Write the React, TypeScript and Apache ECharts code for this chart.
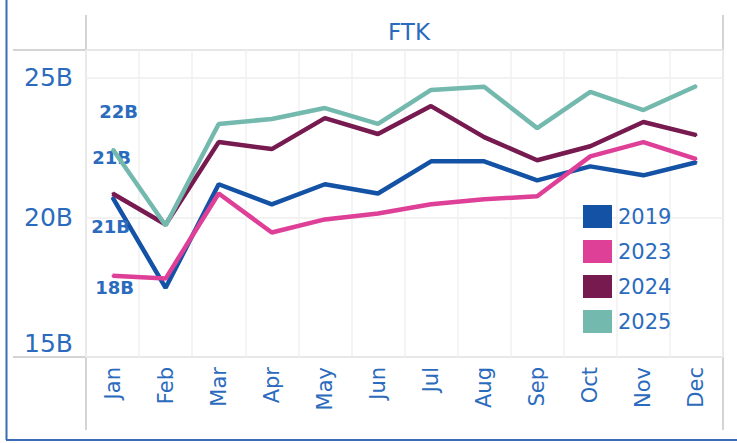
import React, { useEffect, useRef } from "react";
import * as echarts from "echarts";

const months = ["Jan", "Feb", "Mar", "Apr", "May", "Jun", "Jul", "Aug", "Sep", "Oct", "Nov", "Dec"];
const y2019 = [20.72, 17.48, 21.19, 20.47, 21.19, 20.86, 22.01, 22.01, 21.33, 21.83, 21.51, 21.98];
const y2023 = [17.91, 17.81, 20.86, 19.46, 19.93, 20.14, 20.47, 20.65, 20.76, 22.19, 22.7, 22.09];
const y2024 = [20.86, 19.75, 22.7, 22.45, 23.56, 22.99, 23.99, 22.88, 22.05, 22.55, 23.42, 22.95];
const y2025 = [22.45, 19.71, 23.35, 23.53, 23.92, 23.35, 24.57, 24.68, 23.2, 24.5, 23.85, 24.71];
const seriesNames = ["2019", "2023", "2024", "2025"];
const seriesColors = ["#1352a5", "#de3f97", "#761a4f", "#74b9ae"];
const firstLabelOffsets: [number, number][] = [[-2, 29], [2, 12], [-1, -36], [6, -38]];

const TEXT = "#2b6bbd";
const FONT = "DejaVu Sans";
const GRAY = "#d4d4d4";

export default function App() {
  const ref = useRef<HTMLDivElement>(null);
  useEffect(() => {
    if (!ref.current) return;
    const chart = echarts.init(ref.current, undefined, { renderer: "svg" });
    const all = [y2019, y2023, y2024, y2025];
    const series = all.map((vals, i) => ({
      name: seriesNames[i],
      type: "line",
      data: vals.map((v, j) =>
        j === 0
          ? {
              value: v,
              label: {
                show: true,
                position: "inside",
                offset: firstLabelOffsets[i],
                formatter: (p: any) => Math.round(p.value) + "B",
                color: TEXT,
                fontFamily: FONT,
                fontSize: 18,
                fontWeight: "bold",
              },
            }
          : v
      ),
      symbol: "circle",
      symbolSize: 2,
      showSymbol: true,
      lineStyle: { width: 4.5, color: seriesColors[i] },
      itemStyle: { color: seriesColors[i] },
      emphasis: { disabled: true },
      z: 2 + i,
    }));
    const line = (x1: number, y1: number, x2: number, y2: number, color: string, w: number) => ({
      type: "line",
      shape: { x1, y1, x2, y2 },
      style: { stroke: color, lineWidth: w },
      silent: true,
    });
    chart.setOption({
      animation: false,
      backgroundColor: "#ffffff",
      textStyle: { fontFamily: FONT },
      title: {
        text: "FTK",
        left: 404,
        textAlign: "center",
        top: 15,
        textStyle: { color: TEXT, fontFamily: FONT, fontSize: 23, fontWeight: "normal" },
      },
      grid: { left: 86, right: 14, top: 50, bottom: 86 },
      legend: {
        orient: "vertical",
        left: 578,
        top: 200,
        itemWidth: 29,
        itemHeight: 23,
        itemGap: 12,
        icon: "rect",
        data: seriesNames,
        textStyle: { color: TEXT, fontFamily: FONT, fontSize: 21, padding: [0, 0, 0, 1] },
      },
      xAxis: {
        type: "category",
        data: months,
        boundaryGap: true,
        axisLine: { show: false },
        axisTick: { show: false },
        splitLine: { show: true, lineStyle: { color: "#f1f1f1", width: 1.5 } },
        axisLabel: { rotate: 90, margin: 10, color: TEXT, fontFamily: FONT, fontSize: 21 },
      },
      yAxis: {
        type: "value",
        min: 15,
        max: 26,
        interval: 5,
        axisLine: { show: false },
        axisTick: { show: false },
        splitLine: { show: true, lineStyle: { color: "#eeeeee", width: 1.5 } },
        axisLabel: {
          margin: 13,
          showMaxLabel: false,
          color: TEXT,
          fontFamily: FONT,
          fontSize: 25,
          formatter: (v: number) => (v === 15 ? "{low|" + v + "B}" : v % 5 === 0 ? v + "B" : ""),
          rich: {
            low: { color: TEXT, fontFamily: FONT, fontSize: 25, padding: [0, 0, 28, 0] },
          },
        },
      },
      graphic: [
        line(13, 50, 723, 50, GRAY, 2),
        line(13, 357, 723, 357, GRAY, 2),
        line(86, 15, 86, 430, GRAY, 2),
        line(723, 15, 723, 430, GRAY, 2),
        line(6.5, 0, 6.5, 440, "#3a6bb5", 2),
        line(6, 440, 737, 440, "#3a6bb5", 2),
      ],
      series,
    });
    return () => chart.dispose();
  }, []);
  return (
    <div
      ref={ref}
      style={{ position: "fixed", left: 0, top: 0, width: 737, height: 443, background: "#fff" }}
    />
  );
}
